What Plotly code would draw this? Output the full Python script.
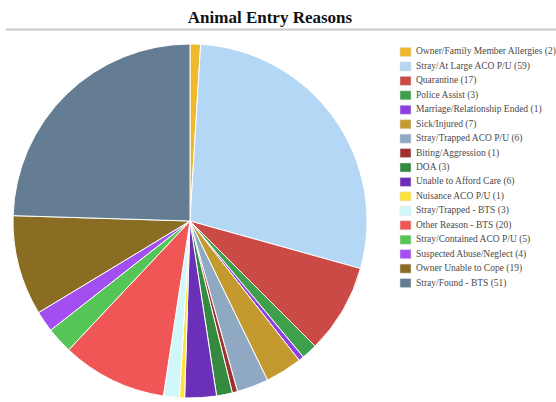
import plotly.graph_objects as go

# Entry reasons and counts, in slice order (clockwise from 12 o'clock)
reasons = [
    "Owner/Family Member Allergies",
    "Stray/At Large ACO P/U",
    "Quarantine",
    "Police Assist",
    "Marriage/Relationship Ended",
    "Sick/Injured",
    "Stray/Trapped ACO P/U",
    "Biting/Aggression",
    "DOA",
    "Unable to Afford Care",
    "Nuisance ACO P/U",
    "Stray/Trapped - BTS",
    "Other Reason - BTS",
    "Stray/Contained ACO P/U",
    "Suspected Abuse/Neglect",
    "Owner Unable to Cope",
    "Stray/Found - BTS",
]
counts = [2, 59, 17, 3, 1, 7, 6, 1, 3, 6, 1, 3, 20, 5, 4, 19, 51]
colors = [
    "#f0b92d", "#b3d7f5", "#cc4a45", "#3ea04a", "#8d3fe0", "#c49a2e",
    "#8fa9c2", "#a03030", "#348a3e", "#6c2fb8", "#ffe23d", "#d0f8fa",
    "#f05656", "#55c557", "#a24ef0", "#8a6c22", "#647d93",
]

W, H = 556, 402
FONT = "Liberation Serif"

fig = go.Figure(go.Pie(
    labels=reasons,
    values=counts,
    sort=False,
    direction="clockwise",
    rotation=0,
    textinfo="none",
    hoverinfo="label+value+percent",
    marker=dict(colors=colors, line=dict(color="white", width=1)),
    domain=dict(x=[13 / W, 367 / W], y=[(H - 398) / H, (H - 44) / H]),
    showlegend=False,
))

# Compact legend: swatch + label with count
shapes = [dict(type="line", xref="paper", yref="paper",
               x0=6 / W, x1=1, y0=1 - 29.5 / H, y1=1 - 29.5 / H,
               line=dict(color="#c8c8c8", width=2))]
annotations = []
top, step = 52.0, 14.44
for i, (name, n, c) in enumerate(zip(reasons, counts, colors)):
    yc = top + i * step
    shapes.append(dict(type="rect", xref="paper", yref="paper",
                       x0=400 / W, x1=411 / W,
                       y0=1 - (yc + 4.5) / H, y1=1 - (yc - 4.5) / H,
                       fillcolor=c, line=dict(color="#dddddd", width=0.5)))
    annotations.append(dict(xref="paper", yref="paper",
                            x=414 / W, y=1 - yc / H,
                            xanchor="left", yanchor="middle",
                            text=f"{name} ({n})", showarrow=False,
                            font=dict(family=FONT, size=9.5, color="#4a4a4a")))

fig.update_layout(
    width=W, height=H,
    margin=dict(l=0, r=0, t=0, b=0),
    paper_bgcolor="white",
    font=dict(family=FONT),
    title=dict(text="<b>Animal Entry Reasons</b>", x=270 / W, xanchor="center",
               y=1 - 17 / H, yanchor="middle",
               font=dict(family=FONT, size=17, color="#111111")),
    shapes=shapes,
    annotations=annotations,
)

fig.write_html("out.html")
